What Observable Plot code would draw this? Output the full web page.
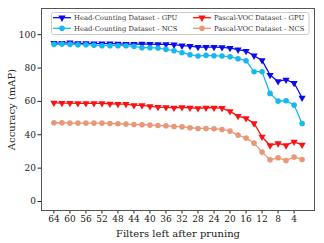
<!DOCTYPE html>
<html>
<head>
<meta charset="utf-8">
<script src="https://cdn.jsdelivr.net/npm/d3@7"></script>
<script src="https://cdn.jsdelivr.net/npm/@observablehq/plot@0.6"></script>
<style>
  html, body { margin: 0; padding: 0; background: #fff; }
  #wrap { position: relative; width: 324px; height: 243px; }
  svg text { font-family: "DejaVu Serif", serif; }
  g[aria-label="x-axis label"], g[aria-label="y-axis label"],
  g[aria-label="x-axis label"] text, g[aria-label="y-axis label"] text { font-size: 10px !important; font-weight: normal !important; }
  #legend { position: absolute; left: 0; top: 0; }
</style>
</head>
<body>
<div id="wrap"></div>
<script>
const filters = [64,62,60,58,56,54,52,50,48,46,44,42,40,38,36,34,32,30,28,26,24,22,20,18,16,14,12,10,8,6,4,2];
const headGPU = [95,95,95.2,94.8,94.8,94.6,94.6,94.6,94.5,94.4,94.4,94.5,94.4,94.2,94.2,94,93.4,93.2,92.6,92.6,92.6,92.4,92,91,90.2,87.4,84.6,75.8,72,73,71,62.2];
const headNCS = [94.2,94.4,94.2,94,94,93.6,93.4,93.4,93.4,93.4,93,92.2,92.2,92,91.2,90.4,89.2,88,87.2,87.6,87.4,87.2,86.8,85.6,84.4,77.8,77.8,64.8,60.2,60.4,57.8,46.8];
const pascalGPU = [59.2,59,59,58.8,58.8,58.8,58.8,58.6,58.4,58.4,57.6,57.6,57,56.6,56.4,56.2,56.4,56.2,55.8,56.2,56.2,56,54,51.2,49.8,46.8,38.8,33.6,34.8,33.6,35.8,34];
const pascalNCS = [47.2,47.2,47,47,47,47,47,46.8,46.6,46.4,46.2,46,45.8,45.6,45.4,45,44.8,44.2,43.8,43.8,43.6,43.2,42.2,39.8,38,35,29.6,25,26.2,24.6,26.6,25.2];
const xTicks = [64,60,56,52,48,44,40,36,32,28,24,20,16,12,8,4];
const yTicks = [0,20,40,60,80,100];

const seriesNames = ["Head-Counting Dataset - GPU","Head-Counting Dataset - NCS","Pascal-VOC Dataset - GPU","Pascal-VOC Dataset - NCS"];
const seriesColors = ["#0a0af0","#14b9f0","#ff1010","#eb9677"];
const seriesSymbols = ["triangle","circle","triangle","circle"];
const seriesValues = [headGPU, headNCS, pascalGPU, pascalNCS];

const marks = [Plot.frame({stroke: "#555", strokeWidth: 1})];
seriesValues.forEach((vals, i) => {
  const data = filters.map((f, j) => ({f, v: vals[j]}));
  marks.push(Plot.line(data, {x: "f", y: "v", stroke: seriesColors[i], strokeWidth: 1.3}));
  marks.push(Plot.dot(data, {
    x: "f", y: "v", fill: seriesColors[i], stroke: "none",
    symbol: seriesSymbols[i], r: seriesSymbols[i] === "triangle" ? 2.7 : 2.8,
    rotate: seriesSymbols[i] === "triangle" ? 180 : 0
  }));
});

const chart = Plot.plot({
  width: 324, height: 243,
  marginLeft: 41, marginRight: 10, marginTop: 8, marginBottom: 33,
  style: {fontFamily: "DejaVu Serif", fontSize: "9px", color: "#222", background: "#fff"},
  x: {domain: [67.1, -1.1], ticks: xTicks, tickSize: 3.5, tickPadding: 2, label: "Filters left after pruning", labelAnchor: "center", labelArrow: "none", labelOffset: 26},
  y: {domain: [-5.4, 115.7], ticks: yTicks, tickSize: 3.5, tickPadding: 2, label: "Accuracy (mAP)", labelAnchor: "center", labelArrow: "none", labelOffset: 34},
  marks
});
const wrap = document.getElementById("wrap");
wrap.appendChild(chart);

// Legend overlay (real text)
const ns = "http://www.w3.org/2000/svg";
const leg = document.createElementNS(ns, "svg");
leg.setAttribute("id", "legend");
leg.setAttribute("width", 324);
leg.setAttribute("height", 40);
const box = document.createElementNS(ns, "rect");
box.setAttribute("x", 51.5); box.setAttribute("y", 12.5);
box.setAttribute("width", 257.5); box.setAttribute("height", 22);
box.setAttribute("rx", 2); box.setAttribute("fill", "#fff"); box.setAttribute("fill-opacity", 0.85);
box.setAttribute("stroke", "#ccc"); box.setAttribute("stroke-width", 1);
leg.appendChild(box);
const pos = [[53, 17.7], [53, 28.3], [193, 17.7], [193, 28.3]];
seriesNames.forEach((name, i) => {
  const [lx, ly] = pos[i];
  const ln = document.createElementNS(ns, "line");
  ln.setAttribute("x1", lx); ln.setAttribute("x2", lx + 18);
  ln.setAttribute("y1", ly); ln.setAttribute("y2", ly);
  ln.setAttribute("stroke", seriesColors[i]); ln.setAttribute("stroke-width", 1.3);
  leg.appendChild(ln);
  const sym = document.createElementNS(ns, "path");
  const sz = seriesSymbols[i] === "triangle" ? Math.PI * 2.7 * 2.7 : Math.PI * 2.8 * 2.8;
  const gen = d3.symbol(seriesSymbols[i] === "triangle" ? d3.symbolTriangle : d3.symbolCircle, sz);
  sym.setAttribute("d", gen());
  sym.setAttribute("fill", seriesColors[i]);
  sym.setAttribute("transform", `translate(${lx + 9},${ly}) rotate(${seriesSymbols[i] === "triangle" ? 180 : 0})`);
  leg.appendChild(sym);
  const t = document.createElementNS(ns, "text");
  t.setAttribute("x", lx + 21); t.setAttribute("y", ly);
  t.setAttribute("dy", "0.35em");
  t.setAttribute("font-size", "6.8px");
  t.setAttribute("fill", "#333");
  t.textContent = name;
  leg.appendChild(t);
});
wrap.appendChild(leg);
</script>
</body>
</html>
